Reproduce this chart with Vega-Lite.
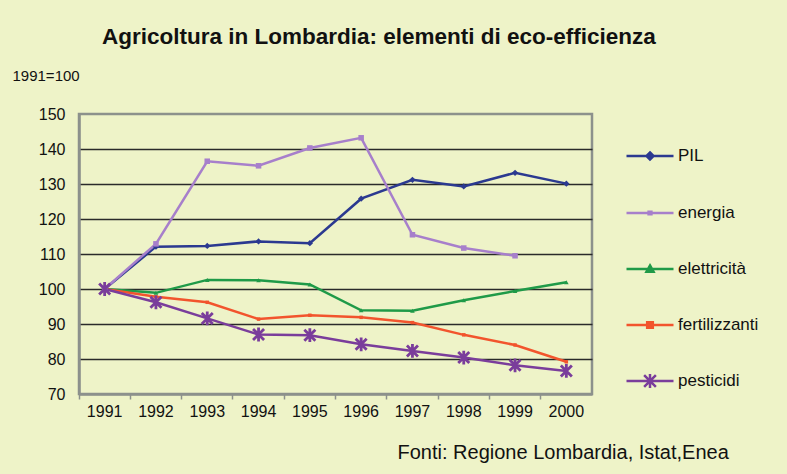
{
  "$schema": "https://vega.github.io/schema/vega-lite/v6.json",
  "width": 513,
  "height": 280,
  "autosize": {"type": "none"},
  "padding": {"left": 79, "top": 114, "right": 195, "bottom": 80},
  "background": "#eef3c8",
  "title": {
    "text": "Agricoltura in Lombardia: elementi di eco-efficienza",
    "anchor": "start",
    "frame": "group",
    "dx": 23,
    "offset": 20,
    "fontSize": 22.5,
    "font": "Liberation Sans",
    "fontWeight": "bold",
    "color": "#111111"
  },
  "config": {
    "view": {"stroke": "#8c918c", "strokeWidth": 2.5},
    "font": "Liberation Sans"
  },
  "data": {
    "values": [
      {"anno": "1991", "serie": "PIL", "valore": 100},
      {"anno": "1992", "serie": "PIL", "valore": 112.1},
      {"anno": "1993", "serie": "PIL", "valore": 112.3},
      {"anno": "1994", "serie": "PIL", "valore": 113.6},
      {"anno": "1995", "serie": "PIL", "valore": 113.1},
      {"anno": "1996", "serie": "PIL", "valore": 125.8},
      {"anno": "1997", "serie": "PIL", "valore": 131.2},
      {"anno": "1998", "serie": "PIL", "valore": 129.3},
      {"anno": "1999", "serie": "PIL", "valore": 133.2},
      {"anno": "2000", "serie": "PIL", "valore": 130.1},
      {"anno": "1991", "serie": "energia", "valore": 100},
      {"anno": "1992", "serie": "energia", "valore": 112.9},
      {"anno": "1993", "serie": "energia", "valore": 136.5},
      {"anno": "1994", "serie": "energia", "valore": 135.2},
      {"anno": "1995", "serie": "energia", "valore": 140.3},
      {"anno": "1996", "serie": "energia", "valore": 143.2},
      {"anno": "1997", "serie": "energia", "valore": 115.5},
      {"anno": "1998", "serie": "energia", "valore": 111.7},
      {"anno": "1999", "serie": "energia", "valore": 109.5},
      {"anno": "1991", "serie": "elettricità", "valore": 100},
      {"anno": "1992", "serie": "elettricità", "valore": 98.9},
      {"anno": "1993", "serie": "elettricità", "valore": 102.6},
      {"anno": "1994", "serie": "elettricità", "valore": 102.5},
      {"anno": "1995", "serie": "elettricità", "valore": 101.3},
      {"anno": "1996", "serie": "elettricità", "valore": 93.9},
      {"anno": "1997", "serie": "elettricità", "valore": 93.8},
      {"anno": "1998", "serie": "elettricità", "valore": 96.8},
      {"anno": "1999", "serie": "elettricità", "valore": 99.4},
      {"anno": "2000", "serie": "elettricità", "valore": 101.9},
      {"anno": "1991", "serie": "fertilizzanti", "valore": 100},
      {"anno": "1992", "serie": "fertilizzanti", "valore": 97.8},
      {"anno": "1993", "serie": "fertilizzanti", "valore": 96.2},
      {"anno": "1994", "serie": "fertilizzanti", "valore": 91.4},
      {"anno": "1995", "serie": "fertilizzanti", "valore": 92.5},
      {"anno": "1996", "serie": "fertilizzanti", "valore": 91.9},
      {"anno": "1997", "serie": "fertilizzanti", "valore": 90.4},
      {"anno": "1998", "serie": "fertilizzanti", "valore": 86.9},
      {"anno": "1999", "serie": "fertilizzanti", "valore": 84.0},
      {"anno": "2000", "serie": "fertilizzanti", "valore": 79.2},
      {"anno": "1991", "serie": "pesticidi", "valore": 100},
      {"anno": "1992", "serie": "pesticidi", "valore": 96.2},
      {"anno": "1993", "serie": "pesticidi", "valore": 91.6},
      {"anno": "1994", "serie": "pesticidi", "valore": 87.0},
      {"anno": "1995", "serie": "pesticidi", "valore": 86.8},
      {"anno": "1996", "serie": "pesticidi", "valore": 84.2},
      {"anno": "1997", "serie": "pesticidi", "valore": 82.3},
      {"anno": "1998", "serie": "pesticidi", "valore": 80.4},
      {"anno": "1999", "serie": "pesticidi", "valore": 78.2},
      {"anno": "2000", "serie": "pesticidi", "valore": 76.6}
    ]
  },
  "encoding": {
    "x": {
      "field": "anno",
      "type": "ordinal",
      "scale": {"type": "band", "paddingInner": 0, "paddingOuter": 0},
      "bandPosition": 0.5,
      "axis": {
        "title": "Fonti: Regione Lombardia, Istat,Enea",
        "titleX": 318,
        "titleY": 58,
        "titleAlign": "left",
        "titleBaseline": "middle",
        "titleFontSize": 20,
        "titleFontWeight": "normal",
        "titleColor": "#111111",
        "labelAngle": 0,
        "labelFontSize": 16,
        "labelColor": "#111111",
        "bandPosition": 0,
        "tickColor": "#8c918c",
        "tickSize": 5,
        "tickWidth": 1.5,
        "domainColor": "#8c918c",
        "domainWidth": 2.5,
        "labelPadding": 4,
        "grid": false
      }
    },
    "y": {
      "field": "valore",
      "type": "quantitative",
      "scale": {"domain": [70, 150], "nice": false, "zero": false},
      "axis": {
        "title": "1991=100",
        "titleAngle": 0,
        "titleX": -67,
        "titleY": -39,
        "titleAlign": "left",
        "titleBaseline": "middle",
        "titleFontSize": 15,
        "titleFontWeight": "normal",
        "titleColor": "#111111",
        "values": [70, 80, 90, 100, 110, 120, 130, 140, 150],
        "labelFontSize": 16,
        "labelColor": "#111111",
        "labelPadding": 14,
        "ticks": false,
        "domainColor": "#8c918c",
        "domainWidth": 2.5,
        "gridColor": {"condition": {"test": "datum.value === 70 || datum.value === 150", "value": "transparent"}, "value": "#2a2a2a"},
        "gridWidth": 1.5
      }
    },
    "color": {
      "field": "serie",
      "type": "nominal",
      "scale": {
        "domain": ["PIL", "energia", "elettricità", "fertilizzanti", "pesticidi"],
        "range": ["#2b3990", "#a77fcb", "#1f9a48", "#f2542d", "#7a3d9b"]
      },
      "legend": {
        "orient": "none",
        "legendX": 546,
        "legendY": 17,
        "title": null,
        "symbolType": "stroke",
        "symbolSize": 2209,
        "symbolStrokeWidth": 2.5,
        "rowPadding": 23,
        "labelFontSize": 17,
        "labelColor": "#111111",
        "labelOffset": 3,
        "labelFont": "Liberation Sans",
        "encode": {
          "symbols": {
            "update": {
              "shape": {"signal": "datum.value === 'PIL' ? 'M-1,0H1M0,-0.15L0.15,0L0,0.15L-0.15,0Z' : datum.value === 'energia' ? 'M-1,0H1M-0.06,-0.05H0.06V0.05H-0.06Z' : datum.value === 'fertilizzanti' ? 'M-1,0H1M-0.12,-0.12H0.12V0.12H-0.12Z' : datum.value === 'pesticidi' ? 'M-1,0H1M0,-0.3V0.3M-0.25,-0.25L0.25,0.25M-0.25,0.25L0.25,-0.25' : 'M-1,0H1M0,-0.15L0.15,0.12L-0.15,0.12Z'"},
              "fill": {"signal": "scale('color', datum.value)"},
              "stroke": {"signal": "scale('color', datum.value)"},
              "opacity": {"value": 1}
            }
          }
        }
      }
    }
  },
  "layer": [
    {"mark": {"type": "line", "strokeWidth": 2.5}},
    {
      "transform": [{"filter": "datum.serie !== 'pesticidi'"}],
      "mark": {"type": "point", "filled": true, "opacity": 1},
      "encoding": {
        "shape": {
          "field": "serie",
          "type": "nominal",
          "scale": {"domain": ["PIL", "energia", "elettricità", "fertilizzanti"], "range": ["diamond", "square", "triangle-up", "square"]},
          "legend": null
        },
        "size": {
          "field": "serie",
          "type": "nominal",
          "scale": {"domain": ["PIL", "energia", "elettricità", "fertilizzanti"], "range": [40, 12, 40, 40]},
          "legend": null
        }
      }
    },
    {
      "transform": [{"filter": "datum.serie === 'pesticidi'"}],
      "mark": {"type": "point", "filled": false, "opacity": 1, "size": 190, "strokeWidth": 2.8, "shape": "M0,-1V1M-0.8,-0.8L0.8,0.8M-0.8,0.8L0.8,-0.8"}
    }
  ]
}
